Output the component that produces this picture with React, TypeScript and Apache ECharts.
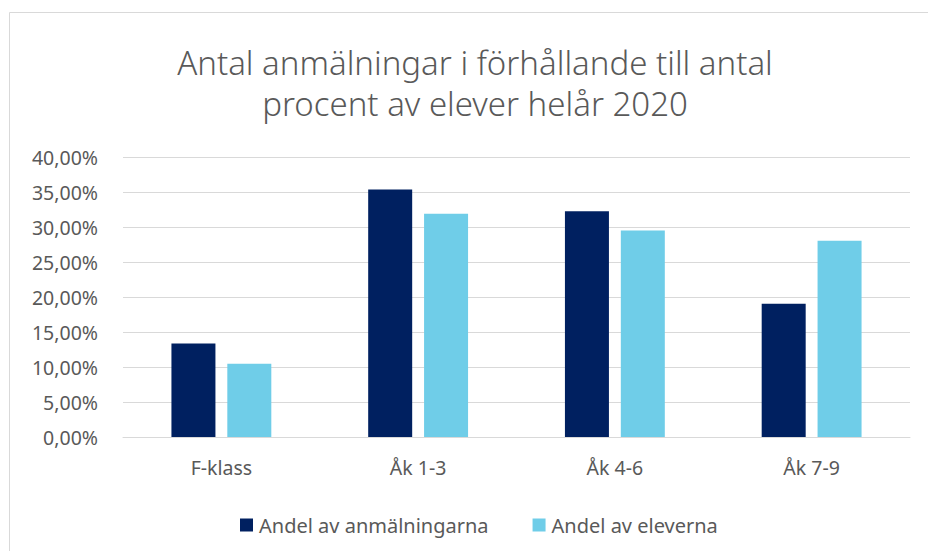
import React, { useEffect, useRef } from "react";
import * as echarts from "echarts";

const categories = ["F-klass", "Åk 1-3", "Åk 4-6", "Åk 7-9"];
const seriesNames = ["Andel av anmälningarna", "Andel av eleverna"];
const anmalningar = [13.34, 35.34, 32.24, 19.05];
const elever = [10.48, 31.9, 29.5, 28.05];
const titleLines = ["Antal anmälningar i förhållande till antal", "procent av elever helår 2020"];

export default function App() {
  const ref = useRef<HTMLDivElement>(null);
  useEffect(() => {
    document.body.style.margin = "0";
    const chart = echarts.init(ref.current!, null, { renderer: "svg" });
    const font = "'Noto Sans', 'Open Sans', sans-serif";
    const titleStyle = {
      fontFamily: font,
      fontSize: 33,
      fontWeight: 300,
      color: "#595959",
      lineHeight: 38,
    };
    chart.setOption({
      animation: false,
      backgroundColor: "#ffffff",
      title: [
        { text: titleLines[0], left: 475, top: 43, textAlign: "center", padding: 0, textStyle: titleStyle },
        { text: titleLines[1], left: 475, top: 84, textAlign: "center", padding: 0, textStyle: titleStyle },
      ],
      graphic: [
        {
          type: "rect",
          shape: { x: 9.5, y: 12.5, width: 940, height: 560 },
          style: { fill: "none", stroke: "#D9D9D9", lineWidth: 1 },
          silent: true,
        },
      ],
      legend: {
        data: seriesNames,
        left: 235,
        top: 510,
        itemWidth: 13,
        itemHeight: 13,
        itemGap: 44,
        icon: "rect",
        textStyle: { fontFamily: font, fontSize: 20, color: "#595959", padding: [0, 0, 0, 1] },
      },
      grid: { left: 123, right: 18, top: 157, bottom: 114 },
      xAxis: {
        type: "category",
        data: categories,
        axisLine: { lineStyle: { color: "#D9D9D9", width: 1 } },
        axisTick: { show: false },
        axisLabel: { fontFamily: font, fontSize: 19.5, color: "#595959", margin: 20 },
      },
      yAxis: {
        type: "value",
        min: 0,
        max: 40,
        interval: 5,
        axisLine: { show: false },
        axisTick: { show: false },
        splitLine: { lineStyle: { color: "#D9D9D9", width: 1 } },
        axisLabel: {
          fontFamily: font,
          fontSize: 19.5,
          color: "#595959",
          margin: 25,
          formatter: (v: number) => v.toFixed(2).replace(".", ",") + "%",
        },
      },
      series: [
        {
          name: seriesNames[0],
          type: "bar",
          data: anmalningar,
          barWidth: 44,
          barGap: "27%",
          itemStyle: { color: "#002060" },
        },
        {
          name: seriesNames[1],
          type: "bar",
          data: elever,
          barWidth: 44,
          itemStyle: { color: "#6FCDE8" },
        },
      ],
    });
    return () => chart.dispose();
  }, []);
  return <div ref={ref} style={{ width: 928, height: 551 }} />;
}
